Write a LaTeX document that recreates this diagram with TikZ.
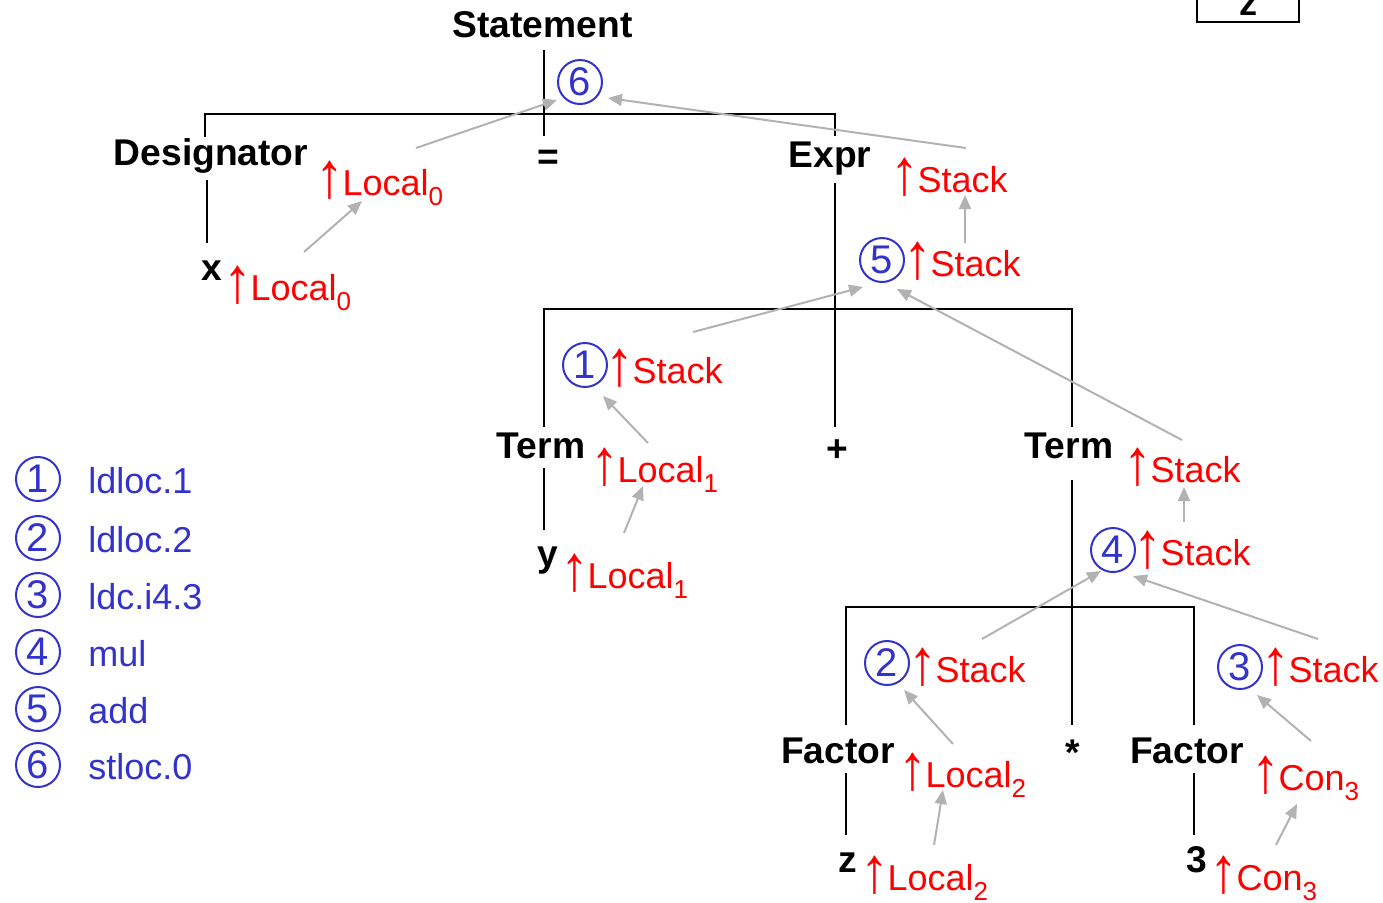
\documentclass[tikz,border=0pt]{standalone}
\usepackage{fontspec}
\usepackage{graphicx}
\setmainfont{Liberation Sans}
\usetikzlibrary{arrows.meta,calc}
\definecolor{cblue}{RGB}{51,51,204}
\definecolor{cred}{RGB}{255,0,0}
\definecolor{cgray}{RGB}{178,178,178}
\newcommand\attrsub[1]{\raisebox{-5pt}{\fontsize{13}{13}\selectfont #1}}
\newcommand\uarr{\kern-2.5pt\raisebox{-1pt}{\scalebox{1.6}[1.8]{↑}}\kern-0.8pt}
\tikzset{
  tree/.style={line width=1pt, draw=black},
  sym/.style={font=\fontsize{18.6}{20}\selectfont\bfseries, inner sep=0pt, anchor=base},
  attr/.style={font=\fontsize{18}{20}\selectfont, text=cred, inner sep=0pt, anchor=base west},
  num/.style={circle, draw=cblue, line width=1pt, minimum size=22pt, inner sep=0pt, text=cblue, font=\fontsize{20}{20}\selectfont},
  legtext/.style={font=\fontsize{18}{20}\selectfont, text=cblue, inner sep=0pt, anchor=base west},
  flow/.style={draw=cgray, line width=1pt, -{Triangle[length=7pt,width=6pt]}}
}
\begin{document}
\begin{tikzpicture}[x=0.5pt,y=-0.5pt]
\useasboundingbox (0,0) rectangle (1383,902);

% box at top right
\node[draw, line width=1pt, anchor=south, minimum width=51pt, text height=20pt, text depth=0pt, inner ysep=3.5pt, font=\fontsize{18}{20}\selectfont\bfseries] (zbox) at (1248,23) {z};

% tree symbols
\node[sym] (stmt) at (542.5,37) {Statement};
\node[sym] (eq) at (548,169) {=};
\node[sym] (desig) at (211,165) {Designator};
\node[sym] (xn) at (212,280) {x};
\node[sym] (expr) at (830,167) {Expr};
\node[sym] (plus) at (837,461) {+};
\node[sym] (termL) at (541,458) {Term};
\node[sym] (termR) at (1069,458) {Term};
\node[sym] (yn) at (548,566) {y};
\node[sym] (star) at (1073,765) {*};
\node[sym] (factL) at (838,763) {Factor};
\node[sym] (factR) at (1187,763) {Factor};
\node[sym] (zn) at (848,872) {z};
\node[sym] (three) at (1197,872) {3};

% tree lines
\draw[tree] ($(stmt.base)+(1.5,13)$) -- ($(eq.base)+(-4,-33)$);
\draw[tree] ($(desig.base)+(-6,-28)$) |- ($(expr.base)+(5,-53)$) -- ($(expr.base)+(5,-31)$);
\draw[tree] ($(desig.base)+(-4,15)$) -- ($(xn.base)+(-5,-37)$);
\draw[tree] ($(expr.base)+(5,16)$) -- ($(plus.base)+(-2,-34)$);
\draw[tree] ($(termL.base)+(3,-31)$) |- ($(termR.base)+(3,-149)$) -- ($(termR.base)+(3,-31)$);
\draw[tree] ($(termL.base)+(3,10)$) -- ($(yn.base)+(-4,-36)$);
\draw[tree] ($(termR.base)+(3,22)$) -- ($(star.base)+(-1,-40)$);
\draw[tree] ($(factL.base)+(8,-38)$) |- ($(factR.base)+(7,-156)$) -- ($(factR.base)+(7,-38)$);
\draw[tree] ($(factL.base)+(8,10)$) -- ($(zn.base)+(-2,-37)$);
\draw[tree] ($(factR.base)+(7,10)$) -- ($(three.base)+(-3,-37)$);

% circled numbers in tree
\node[num] (c6) at (580,82) {6};
\node[num] (c5) at (882,260) {5};
\node[num] (c1) at (585,365) {1};
\node[num] (c4) at (1113,550) {4};
\node[num] (c2) at (887,663) {2};
\node[num] (c3) at (1240,667) {3};

% attributes
\node[attr] (dL0) at (320,195) {\uarr Local\attrsub{0}};
\node[attr] (xL0) at (228,300) {\uarr Local\attrsub{0}};
\node[attr] (eS) at (895,192) {\uarr Stack};
\node[attr] (s5) at (908,276) {\uarr Stack};
\node[attr] (s1) at (610,383) {\uarr Stack};
\node[attr] (tL1) at (595,482) {\uarr Local\attrsub{1}};
\node[attr] (yL1) at (565,588) {\uarr Local\attrsub{1}};
\node[attr] (tS) at (1128,482) {\uarr Stack};
\node[attr] (s4) at (1138,565) {\uarr Stack};
\node[attr] (s2) at (913,682) {\uarr Stack};
\node[attr] (s3) at (1266,682) {\uarr Stack};
\node[attr] (fL2) at (903,787) {\uarr Local\attrsub{2}};
\node[attr] (zL2) at (865,890) {\uarr Local\attrsub{2}};
\node[attr] (fC3) at (1256,790) {\uarr Con\attrsub{3}};
\node[attr] (dC3) at (1214,890) {\uarr Con\attrsub{3}};

% flow arrows
\draw[flow] ($(dL0.base west)+(96,-47)$) -- ($(c6)+(-23,18)$);
\draw[flow] ($(eS.base west)+(71,-44)$) -- ($(c6)+(28,16)$);
\draw[flow] ($(xL0.base west)+(76,-48)$) -- ($(dL0.base west)+(42,6)$);
\draw[flow] ($(s5.base west)+(57,-33)$) -- ($(eS.base west)+(70,3)$);
\draw[flow] ($(s1.base west)+(83,-51)$) -- ($(c5)+(-19,27)$);
\draw[flow] ($(tS.base west)+(54,-42)$) -- ($(c5)+(15,29)$);
\draw[flow] ($(tL1.base west)+(53,-39)$) -- ($(c1)+(18,31)$);
\draw[flow] ($(yL1.base west)+(59,-55)$) -- ($(tL1.base west)+(48,4)$);
\draw[flow] ($(s4.base west)+(46,-43)$) -- ($(tS.base west)+(56,5)$);
\draw[flow] ($(s2.base west)+(69,-43)$) -- ($(c4)+(-12,21)$);
\draw[flow] ($(s3.base west)+(52,-43)$) -- ($(c4)+(20,26)$);
\draw[flow] ($(fL2.base west)+(50,-43)$) -- ($(c2)+(17,27)$);
\draw[flow] ($(zL2.base west)+(69,-45)$) -- ($(fL2.base west)+(40,3)$);
\draw[flow] ($(fC3.base west)+(55,-49)$) -- ($(c3)+(17,28)$);
\draw[flow] ($(dC3.base west)+(62,-45)$) -- ($(fC3.base west)+(41,14)$);

% legend
\node[num] (L1) at (38,479) {1};
\node[num] (L2) at (38,538) {2};
\node[num] (L3) at (38,595) {3};
\node[num] (L4) at (38,652) {4};
\node[num] (L5) at (38,709) {5};
\node[num] (L6) at (38,765) {6};
\node[legtext] (T1) at (88,493) {ldloc.1};
\node[legtext] (T2) at (88,552) {ldloc.2};
\node[legtext] (T3) at (88,609) {ldc.i4.3};
\node[legtext] (T4) at (88,666) {mul};
\node[legtext] (T5) at (88,723) {add};
\node[legtext] (T6) at (88,779) {stloc.0};
\end{tikzpicture}
\end{document}
